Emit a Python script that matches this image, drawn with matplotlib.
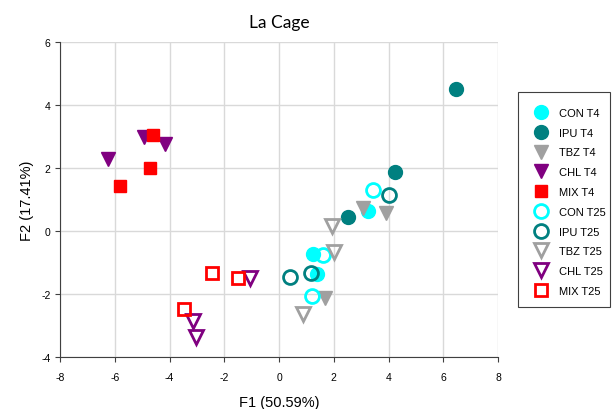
import matplotlib.pyplot as plt
from matplotlib.patches import Rectangle

plt.rcParams['font.family'] = ['Liberation Sans', 'DejaVu Sans']
plt.rcParams['axes.unicode_minus'] = False

## DATA (F1, F2 scores)
con_t4_x = [1.25, 3.26, 1.38]
con_t4_y = [-0.73, 0.64, -1.37]
ipu_t4_x = [6.47, 4.23, 2.53]
ipu_t4_y = [4.51, 1.86, 0.43]
tbz_t4_x = [3.08, 3.91, 1.69]
tbz_t4_y = [0.72, 0.57, -2.12]
chl_t4_x = [-6.26, -4.95, -4.16]
chl_t4_y = [2.29, 3.00, 2.76]
mix_t4_x = [-5.83, -4.73, -4.59]
mix_t4_y = [1.43, 2.01, 3.05]

con_t25_x = [3.44, 1.62, 1.19]
con_t25_y = [1.31, -0.76, -2.05]
ipu_t25_x = [4.03, 1.17, 0.40]
ipu_t25_y = [1.14, -1.33, -1.47]
tbz_t25_x = [1.95, 2.02, 0.89]
tbz_t25_y = [0.17, -0.68, -2.63]
chl_t25_x = [-1.06, -3.16, -3.03]
chl_t25_y = [-1.50, -2.85, -3.38]
mix_t25_x = [-2.46, -1.49, -3.49]
mix_t25_y = [-1.33, -1.50, -2.48]

cyan = '#00FFFF'
teal = '#008080'
grey = '#A0A0A0'
purple = '#800080'
red = '#FF0000'

fig = plt.figure(figsize=(6.14, 4.10), dpi=100)
ax = fig.add_axes([0.098, 0.127, 0.713, 0.768])

# filled markers (T4)
ax.plot(con_t4_x, con_t4_y, 'o', ms=10, color=cyan, mec=cyan, ls='none', label='CON T4')
ax.plot(ipu_t4_x, ipu_t4_y, 'o', ms=10, color=teal, mec=teal, ls='none', label='IPU T4')
ax.plot(tbz_t4_x, tbz_t4_y, 'v', ms=10, color=grey, mec=grey, ls='none', label='TBZ T4')
ax.plot(chl_t4_x, chl_t4_y, 'v', ms=10, color=purple, mec=purple, ls='none', label='CHL T4')
ax.plot(mix_t4_x, mix_t4_y, 's', ms=9, color=red, mec=red, ls='none', label='MIX T4')

# open markers (T25)
ax.plot(con_t25_x, con_t25_y, 'o', ms=10, mfc='none', mec=cyan, mew=2, ls='none', label='CON T25')
ax.plot(ipu_t25_x, ipu_t25_y, 'o', ms=10, mfc='none', mec=teal, mew=2, ls='none', label='IPU T25')
ax.plot(tbz_t25_x, tbz_t25_y, 'v', ms=10, mfc='none', mec=grey, mew=2, ls='none', label='TBZ T25')
ax.plot(chl_t25_x, chl_t25_y, 'v', ms=10, mfc='none', mec=purple, mew=2, ls='none', label='CHL T25')
ax.plot(mix_t25_x, mix_t25_y, 's', ms=9, mfc='none', mec=red, mew=2, ls='none', label='MIX T25')

ax.set_xlim(-8, 8)
ax.set_ylim(-4, 6)
ax.set_xticks(range(-8, 9, 2))
ax.set_yticks(range(-4, 7, 2))
ax.grid(True, color='#D9D9D9', lw=1)
ax.set_axisbelow(True)
for s in ['top', 'right']:
    ax.spines[s].set_visible(False)
ax.spines['left'].set_color('#404040')
ax.spines['bottom'].set_color('#404040')
ax.tick_params(labelsize=7.5, direction='out', length=3.5, color='#404040')
ax.tick_params(axis='x', pad=7)

ax.set_title('La Cage', fontsize=12.5, pad=11, family=['Lato', 'DejaVu Sans'])
ax.set_xlabel('F1 (50.59%)', fontsize=10.5, labelpad=10)
ax.set_ylabel('F2 (17.41%)', fontsize=10.5, labelpad=5)

# legend without its own frame; box drawn separately to get the tight right edge
leg = ax.legend(loc='upper left', bbox_to_anchor=(1.080, 0.791), fontsize=8,
                frameon=False, labelspacing=0.88, handlelength=1.4,
                handletextpad=0.95, borderpad=0, borderaxespad=0)
fig.patches.append(Rectangle((0.8436, 0.2488), 0.1499, 0.5244, transform=fig.transFigure,
                             fill=False, edgecolor='#404040', lw=0.8))

plt.savefig('out.png', dpi=100)
